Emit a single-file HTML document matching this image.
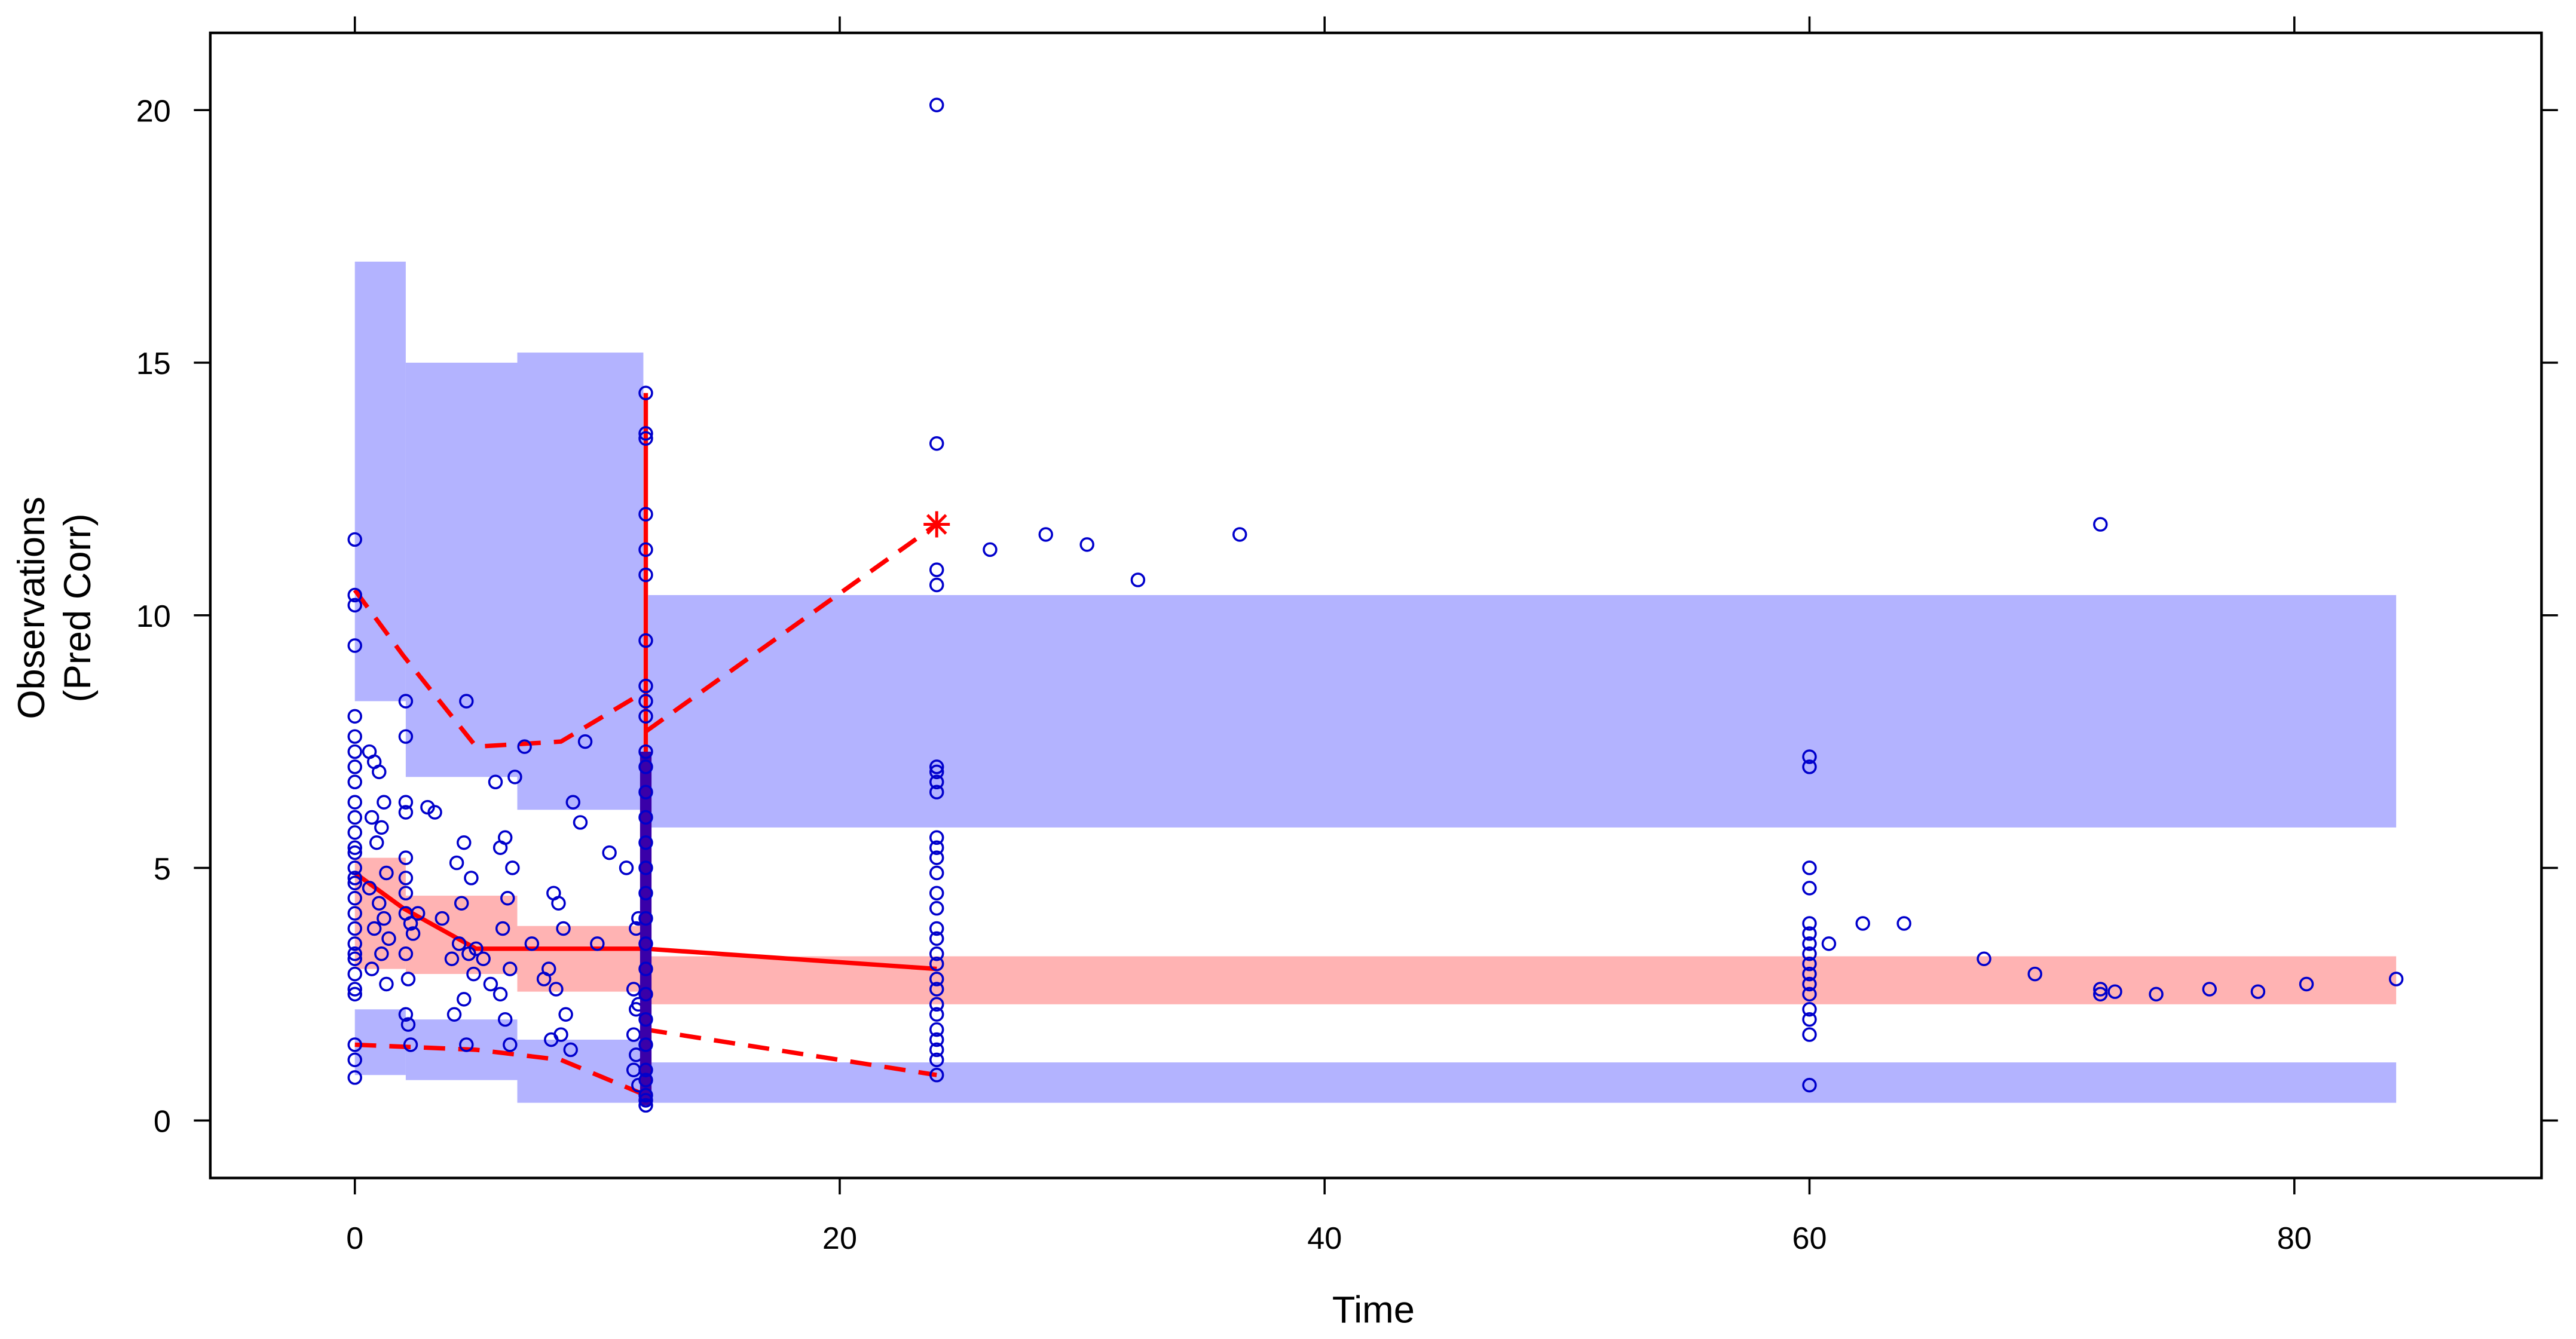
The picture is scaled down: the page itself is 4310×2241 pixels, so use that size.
<!DOCTYPE html>
<html><head><meta charset="utf-8"><style>
html,body{margin:0;padding:0;background:#fff;}
svg{display:block;}
text{font-family:"Liberation Sans",Arial,sans-serif;fill:#000;}
</style></head><body>
<svg id="chart" width="4310" height="2241" viewBox="0 0 1568 815" preserveAspectRatio="none" xmlns="http://www.w3.org/2000/svg">
<g id="bands"></g>
<g id="lines"></g>
<g id="pts"></g>
<g id="axes"></g>
</svg>
<script>
// bins: [t0, t1, lo, hi]
const upperBands = [[0,2.1,8.3,17.0],[2.1,6.7,6.8,15.0],[6.7,11.9,6.15,15.2],[12.1,84.2,5.8,10.4]];
const medianBands = [[0,2.1,3.0,5.2],[2.1,6.7,2.9,4.45],[6.7,11.9,2.55,3.85],[12.1,84.2,2.3,3.25]];
const lowerBands = [[0,2.1,0.9,2.2],[2.1,6.7,0.8,2.0],[6.7,11.9,0.35,1.6],[12.1,84.2,0.35,1.15]];
const medianLine = [[0,4.9],[2,4.2],[5,3.4],[12,3.4],[24,3.0]];
const upperLineA = [[0,10.5],[2,9.2],[5,7.4],[8.5,7.5],[12,8.5]];
const upperLineB = [[12,7.7],[24,11.8]];
const lowerLineA = [[0,1.5],[5,1.4],[8.5,1.2],[12,0.5]];
const lowerLineB = [[12,1.8],[24,0.9]];
const vertLine = [[12,14.4],[12,0.5]];
const star = [24,11.8];
const xTicks = [0,20,40,60,80];
const yTicks = [0,5,10,15,20];
const col0 = [0.85,1.2,1.5,2.5,2.6,2.9,3.2,3.3,3.5,3.8,4.1,4.4,4.7,4.8,5.0,5.3,5.4,5.7,6.0,6.3,6.7,7.0,7.3,7.6,8.0,9.4,10.2,10.4,11.5];
const col12 = [0.3,0.4,0.5,0.8,1.0,1.5,2.0,2.5,3.0,3.5,4.0,4.5,5.0,5.5,6.0,6.5,7.0,7.3,8.0,8.3,8.6,9.5,10.8,11.3,12.0,13.5,13.6,14.4];
const col24 = [0.9,1.2,1.4,1.6,1.8,2.1,2.3,2.6,2.8,3.1,3.3,3.6,3.8,4.2,4.5,4.9,5.2,5.4,5.6,6.5,6.7,6.9,7.0,10.6,10.9,13.4,20.1];
const col60 = [0.7,1.7,2.0,2.2,2.5,2.7,2.9,3.1,3.3,3.5,3.7,3.9,4.6,5.0,7.0,7.2];
const scatterT = [0.6,0.8,1.0,1.2,0.7,1.1,0.9,1.3,0.6,1.0,1.2,0.8,1.4,1.1,0.7,1.3,2.1,2.1,2.1,2.1,2.1,2.1,2.1,2.1,2.1,2.1,2.2,2.3,2.2,2.4,2.3,2.6,3.0,3.3,3.6,4.0,4.2,4.4,4.5,4.6,4.8,4.3,4.7,4.9,4.5,4.1,4.6,5.0,5.3,5.6,6.0,6.2,6.4,6.1,6.3,6.5,6.0,6.2,6.6,5.8,6.4,7.0,7.3,7.8,8.2,8.4,8.6,8.0,8.3,8.7,8.5,8.9,8.1,9.0,9.3,9.5,10.0,10.5,11.2,11.5,11.6,11.7,11.5,11.6,11.7,11.6,11.5,11.7];
const scatterV = [7.3,7.1,6.9,6.3,6.0,5.8,5.5,4.9,4.6,4.3,4.0,3.8,3.6,3.3,3.0,2.7,8.3,7.6,6.3,6.1,5.2,4.8,4.5,4.1,3.3,2.1,1.9,1.5,2.8,3.7,3.9,4.1,6.2,6.1,4.0,3.2,5.1,4.3,5.5,8.3,4.8,3.5,3.3,2.9,2.4,2.1,1.5,3.4,3.2,2.7,2.5,2.0,1.5,3.8,4.4,5.0,5.4,5.6,6.8,6.7,3.0,7.4,3.5,2.8,4.5,4.3,3.8,3.0,2.6,2.1,1.7,1.4,1.6,6.3,5.9,7.5,3.5,5.3,5.0,2.6,2.2,4.0,1.7,1.3,2.3,3.8,1.0,0.7];
const tail = [[26.2,11.3],[28.5,11.6],[30.2,11.4],[32.3,10.7],[36.5,11.6],[60.8,3.5],[62.2,3.9],[63.9,3.9],[67.2,3.2],[69.3,2.9],[72,2.6],[72,2.5],[72.6,2.55],[74.3,2.5],[76.5,2.6],[78.5,2.55],[80.5,2.7],[84.2,2.8],[72,11.8]];

const L=128,R=1547,T=20,B=717;
const sx=t=>216+t*14.757;
const sy=v=>682-v*30.75;
const NS='http://www.w3.org/2000/svg';
function mk(tag,parent,attrs){const e=document.createElementNS(NS,tag);for(const k in attrs)e.setAttribute(k,attrs[k]);parent.appendChild(e);return e;}
const gB=document.getElementById('bands'),gL=document.getElementById('lines'),gP=document.getElementById('pts'),gA=document.getElementById('axes');

upperBands.forEach(b=>{const r=mk('rect',gB,{x:sx(b[0]),y:sy(b[3]),width:sx(b[1])-sx(b[0]),height:sy(b[2])-sy(b[3]),fill:'#b3b3ff'});

});
lowerBands.forEach(b=>{const r=mk('rect',gB,{x:sx(b[0]),y:sy(b[3]),width:sx(b[1])-sx(b[0]),height:sy(b[2])-sy(b[3]),fill:'#b3b3ff'});

});
medianBands.forEach(b=>{const r=mk('rect',gB,{x:sx(b[0]),y:sy(b[3]),width:sx(b[1])-sx(b[0]),height:sy(b[2])-sy(b[3]),fill:'#ffb3b3'});

});

function poly(arr,dash,name){const p=mk('polyline',gL,{points:arr.map(d=>sx(d[0])+','+sy(d[1])).join(' '),fill:'none',stroke:'#ff0000','stroke-width':2.7});
if(dash)p.setAttribute('stroke-dasharray','13,8');

}

function circ(t,v){const c=mk('circle',gP,{cx:sx(t),cy:sy(v),r:3.8,fill:'none',stroke:'#0000cc','stroke-width':1.3});

}
col0.forEach(v=>circ(0,v));
col24.forEach(v=>circ(24,v));
col60.forEach(v=>circ(60,v));
scatterT.forEach((t,i)=>circ(t,scatterV[i]));
tail.forEach(d=>circ(d[0],d[1]));
const dense=mk('rect',gP,{x:sx(12)-3.5,y:sy(7.3),width:7,height:sy(0.3)-sy(7.3),fill:'#3a00a8'});


col12.forEach(v=>circ(12,v));

poly(medianLine,false,'median-observed-line');
poly(upperLineA,true,'upper-observed-line');
poly(upperLineB,true,'upper-observed-line');
poly(lowerLineA,true,'lower-observed-line');
poly(lowerLineB,true,'lower-observed-line');
poly(vertLine,false,'vertical-line-t12');
const sg=mk('g',gL,{stroke:'#ff0000','stroke-width':1.8});


for(let a=0;a<4;a++){const an=a*Math.PI/4,cx=sx(star[0]),cy=sy(star[1]);mk('line',sg,{x1:cx-8*Math.cos(an),y1:cy-8*Math.sin(an),x2:cx+8*Math.cos(an),y2:cy+8*Math.sin(an)});}

const box=mk('rect',gA,{x:L,y:T,width:R-L,height:B-T,fill:'none',stroke:'#000','stroke-width':1.6});


xTicks.forEach(t=>{const x=sx(t);
mk('line',gA,{x1:x,y1:B,x2:x,y2:B+10,stroke:'#000','stroke-width':1.3});
mk('line',gA,{x1:x,y1:T,x2:x,y2:T-10,stroke:'#000','stroke-width':1.3});
const tx=mk('text',gA,{x:x,y:760,'text-anchor':'middle','font-size':19});tx.textContent=t;

});
yTicks.forEach(v=>{const y=sy(v);
mk('line',gA,{x1:L,y1:y,x2:L-10,y2:y,stroke:'#000','stroke-width':1.3});
mk('line',gA,{x1:R,y1:y,x2:R+10,y2:y,stroke:'#000','stroke-width':1.3});
const tx=mk('text',gA,{x:104,y:y+7,'text-anchor':'end','font-size':19});tx.textContent=v;

});
const xt=mk('text',gA,{x:836,y:805,'text-anchor':'middle','font-size':23});xt.textContent='Time';


const yt=mk('text',gA,{transform:'translate(27,370) rotate(-90)','text-anchor':'middle','font-size':23});yt.textContent='Observations';


const yt2=mk('text',gA,{transform:'translate(55,370) rotate(-90)','text-anchor':'middle','font-size':23});yt2.textContent='(Pred Corr)';


</script>
</body></html>
